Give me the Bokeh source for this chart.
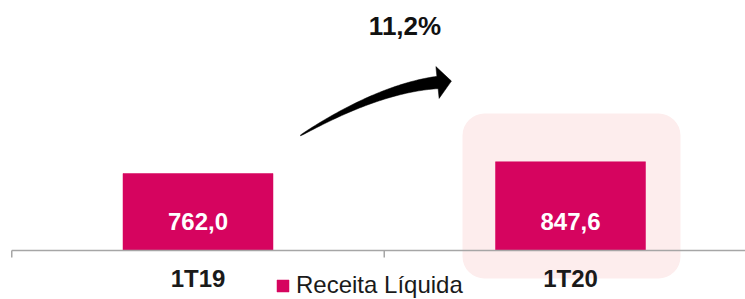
import numpy as np
from bokeh.plotting import figure
from bokeh.models import Range1d, BoxAnnotation, Legend, LegendItem
from bokeh.core.properties import value
from bokeh.embed import file_html
from bokeh.resources import INLINE

# ---- data ----
categories = ["1T19", "1T20"]
revenue = [762.0, 847.6]
growth_label = "11,2%"
series_name = "Receita Líquida"
axis_min = 200.0

# ---- layout (page pixels) ----
W, H = 745, 299
PAGE_OFF = 0
CAT0_PX = 197.5          # page x of first category centre
CAT_PX = 372.5           # pixels per category
BASE_PX = 250.0          # page y of value-axis baseline
PPU = 77.0 / (revenue[0] - axis_min)   # pixels per value unit

def to_x(px):
    return (px - CAT0_PX) / CAT_PX

def to_y(py):
    return axis_min + (BASE_PX - py) / PPU

BAR_COLOR = "#D6045F"
FONT = value("Liberation Sans")

x_start = to_x(PAGE_OFF)
x_end = to_x(PAGE_OFF + W)
y_end = to_y(PAGE_OFF)
y_start = to_y(PAGE_OFF + H)

p = figure(width=W, height=H, output_backend="svg", toolbar_location=None,
           x_axis_type=None, y_axis_type=None,
           x_range=Range1d(x_start, x_end), y_range=Range1d(y_start, y_end),
           min_border=0, outline_line_color=None,
           background_fill_color="white", border_fill_color="white")
p.grid.visible = False

# highlight box around 1T20
box = BoxAnnotation(left=to_x(462), right=to_x(680), top=to_y(113), bottom=to_y(278),
                    fill_color="#FDEDED", fill_alpha=1.0, line_color=None,
                    border_radius=22, level="underlay")
p.add_layout(box)

xs = list(range(len(categories)))
bars = p.vbar(x=xs, top=revenue, bottom=axis_min, width=150 / CAT_PX,
              fill_color=BAR_COLOR, line_color=BAR_COLOR, line_width=0.5)

# axis line and ticks
p.segment(x0=[-0.5], y0=[axis_min], x1=[len(categories) - 0.5], y1=[axis_min],
          line_color="#A6A6A6", line_width=1.5)
tick_x = [i - 0.5 for i in range(len(categories) + 1)]
p.segment(x0=tick_x, y0=[axis_min] * len(tick_x), x1=tick_x,
          y1=[to_y(BASE_PX + 7)] * len(tick_x), line_color="#A6A6A6", line_width=1.5)

# value labels inside bars
val_text = [f"{v:.1f}".replace(".", ",") for v in revenue]
p.text(x=xs, y=[to_y(221)] * len(xs), text=val_text, text_color="white",
       text_font=FONT, text_font_style="bold", text_font_size="24px",
       text_align="center", text_baseline="middle")

# category labels
p.text(x=xs, y=[to_y(278)] * len(xs), text=categories, text_color="#1a1a1a",
       text_font=FONT, text_font_style="bold", text_font_size="24px",
       text_align="center", text_baseline="middle")

# growth label
p.text(x=[to_x(404.5)], y=[to_y(25)], text=[growth_label], text_color="#111111",
       text_font=FONT, text_font_style="bold", text_font_size="26px",
       text_align="center", text_baseline="middle")

# curved growth arrow
P0 = np.array([300.0, 135.0])
C = np.array([378.0, 88.0])
P2 = np.array([437.0, 82.0])
t = np.linspace(0, 1, 50)[:, None]
B = (1 - t) ** 2 * P0 + 2 * (1 - t) * t * C + t ** 2 * P2
D = 2 * (1 - t) * (C - P0) + 2 * t * (P2 - C)
T = D / np.linalg.norm(D, axis=1, keepdims=True)
N = np.column_stack([T[:, 1], -T[:, 0]])
hw = (0.4 + 5.8 * t[:, 0] ** 0.8)[:, None]
upper = B + N * hw
lower = B - N * hw
Te, Ne = T[-1], N[-1]
head = [P2 + Ne * 16, P2 + Te * 14, P2 - Ne * 16]
poly = np.vstack([upper, head, lower[::-1]])
p.patch(x=[to_x(v) for v in poly[:, 0]], y=[to_y(v) for v in poly[:, 1]],
        fill_color="black", line_color="black", line_width=0.5)

# legend
legend = Legend(items=[LegendItem(label=series_name, renderers=[bars])],
                location=(275, 0), orientation="horizontal",
                label_text_font="Liberation Sans", label_text_font_size="24px",
                label_text_color="#1a1a1a", glyph_width=15, glyph_height=15,
                label_standoff=6, padding=0, margin=0, spacing=0,
                background_fill_alpha=0, border_line_color=None)
p.add_layout(legend)

open("out.html", "w").write(file_html(p, INLINE))
